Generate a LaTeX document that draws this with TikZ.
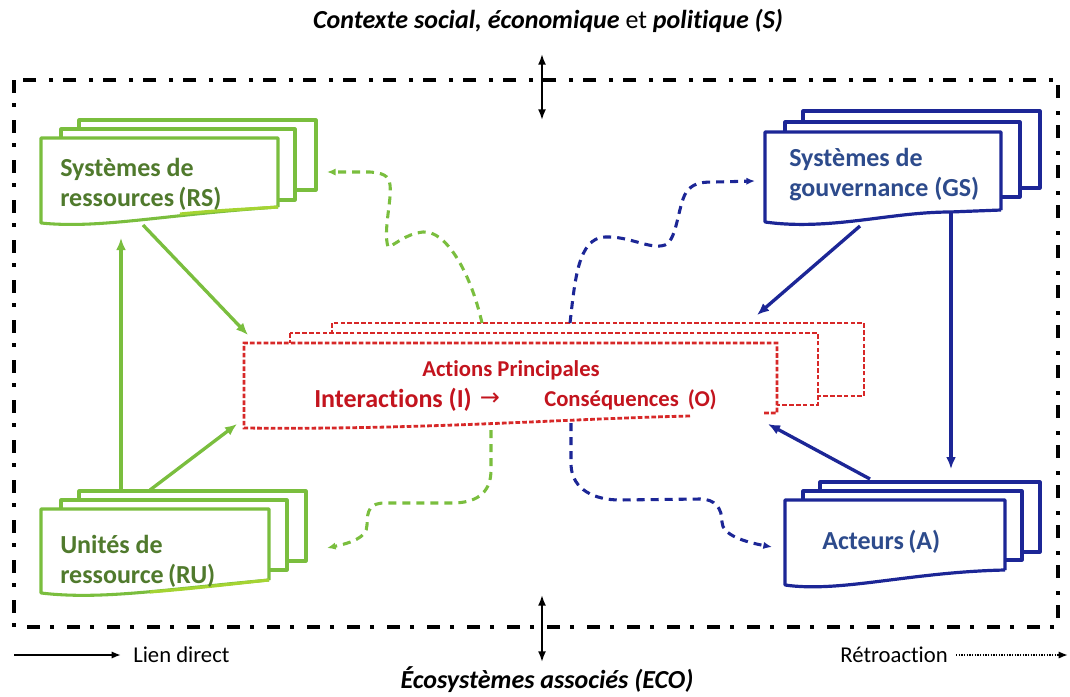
\documentclass[tikz,border=0pt]{standalone}
\usepackage{fontspec}
\setmainfont{Carlito}[Ligatures=NoCommon]
\newfontfamily\dejavu{DejaVu Sans}
\usetikzlibrary{arrows.meta}
\definecolor{gline}{RGB}{122,190,62}
\definecolor{glight}{RGB}{165,212,50}
\definecolor{gtext}{RGB}{80,122,45}
\definecolor{bline}{RGB}{28,38,150}
\definecolor{btext}{RGB}{45,75,140}
\definecolor{rline}{RGB}{215,40,40}
\definecolor{rtext}{RGB}{195,20,30}
\tikzset{
  frame/.style={draw=black, line width=2.8pt, dash pattern=on 10pt off 7.5pt on 2.5pt off 10pt},
  gbox/.style={draw=gline, line width=2.3pt, fill=white, line join=round},
  bbox/.style={draw=bline, line width=2.4pt, fill=white, line join=round},
  rbox/.style={draw=rline, line width=2.1pt, dash pattern=on 3.5pt off 1.6pt, fill=white},
  garrow/.style={draw=gline, line width=2.5pt, -{Latex[length=9pt,width=7.5pt]}},
  barrow/.style={draw=bline, line width=2.5pt, -{Latex[length=9pt,width=7.5pt]}},
  gfb/.style={draw=gline, line width=2.3pt, dash pattern=on 6pt off 4.5pt, -{Latex[length=6.5pt,width=5.5pt]}},
  bfb/.style={draw=bline, line width=2.3pt, dash pattern=on 6pt off 4.5pt, -{Latex[length=6.5pt,width=5.5pt]}},
  ext/.style={draw=black, line width=1.4pt, {Latex[length=8pt,width=6pt]}-{Latex[length=8pt,width=6pt]}},
  boxtext/.style={inner sep=0pt, anchor=west, align=left, font=\fontsize{19.5}{22.5}\selectfont\bfseries},
  legend/.style={inner sep=0pt, font=\fontsize{17}{19}\selectfont}
}
\begin{document}
\begin{tikzpicture}[x=0.75pt,y=-0.75pt]
\useasboundingbox (0,0) rectangle (1070,696);

% outer frame
\draw[frame] (14,80) rectangle (1058,627);

% titles
\node[inner sep=0pt, font=\fontsize{19.5}{22}\selectfont] (ctx) at (548,21)
  {\bfseries\itshape Contexte social, économique {\mdseries\upshape et} politique (S)};
\node[inner sep=0pt, font=\fontsize{19.5}{22}\selectfont\bfseries\itshape] (eco) at (547,680)
  {Écosystèmes associés (ECO)};

% external links
\coordinate (ctxT) at (542,54);
\coordinate (ctxB) at (542,120);
\coordinate (ecoT) at (542,595);
\coordinate (ecoB) at (542,662);
\draw[ext] (ctxT) -- (ctxB);
\draw[ext] (ecoT) -- (ecoB);

% ---------- RS stack
\draw[gbox] (79,120) rectangle (316,190);
\draw[gbox] (61,129) rectangle (295,200);
\draw[gbox] (278,207) -- (278,138) -- (41,138) -- (41,223)
   .. controls (100,229) and (160,215) .. (278,207);
\draw[draw=glight, line width=2.3pt] (180,214) .. controls (220,210) and (250,209) .. (278,207);
\node[boxtext, text=gtext] (rs) at (60,184) {Systèmes de\\ressources\,(RS)};

% ---------- RU stack
\draw[gbox] (79,491) rectangle (306,561);
\draw[gbox] (61,500) rectangle (287,570);
\draw[gbox] (269,580) -- (269,509) -- (41,509) -- (41,593)
   .. controls (100,600) and (160,590) .. (269,580);
\draw[draw=glight, line width=2.3pt] (150,592) .. controls (200,588) and (240,583) .. (269,580);
\node[boxtext, text=gtext] (ru) at (60,561) {Unités de\\ressource\,(RU)};

% ---------- GS stack
\draw[bbox] (803,111) rectangle (1040,188);
\draw[bbox] (785,122) rectangle (1020,197);
\draw[bbox] (1001,210) -- (1001,132) -- (765,132) -- (765,222)
   .. controls (830,231) and (890,212) .. (950,212) -- (1001,210);
\node[boxtext, text=btext] (gs) at (789,175) {Systèmes de\\gouvernance (GS)};

% ---------- A stack
\draw[bbox] (820,482) rectangle (1040,552);
\draw[bbox] (803,491) rectangle (1022,560);
\draw[bbox] (1005,570) -- (1005,500) -- (785,500) -- (785,585)
   .. controls (840,593) and (910,572) .. (1005,570);
\node[boxtext, text=btext] (act) at (822,542) {Acteurs\,(A)};

% ---------- central red stack
\draw[rbox] (332,323) rectangle (864,396);
\draw[rbox] (290,333) rectangle (818,405);
\fill[white] (777,413) -- (777,343) -- (244,343) -- (244,428)
   .. controls (420,430) and (560,418) .. (777,413) -- cycle;
\draw[rbox, fill=none] (690,416) .. controls (560,419) and (420,430) .. (244,428)
   -- (244,343) -- (777,343) -- (777,413) -- (763,413);
\node[inner sep=0pt, text=rtext, font=\fontsize{17}{19}\selectfont\bfseries] (ap) at (511,370) {Actions Principales};
\node[inner sep=0pt, text=rtext, font=\fontsize{19.5}{22}\selectfont\bfseries, anchor=base west] (inter) at (314,407) {Interactions (I)};
\node[inner sep=0pt, text=rtext, font=\fontsize{18}{20}\selectfont\dejavu] (arr) at (490,399) {→};
\node[inner sep=0pt, text=rtext, font=\fontsize{17}{19}\selectfont\bfseries, anchor=base west] (cons) at (544,406) {Conséquences\ \,(O)};

% ---------- direct links
\coordinate (rsOut) at (143,225);
\coordinate (ioRS) at (248,335);
\coordinate (ruOut) at (150,490);
\coordinate (ioRU) at (237,424);
\coordinate (ruUp) at (121,490);
\coordinate (rsIn) at (121,238);
\coordinate (gsOut) at (860,226);
\coordinate (ioGS) at (757,315);
\coordinate (aOut) at (870,479);
\coordinate (ioA) at (768,424);
\coordinate (gsDown) at (951,212);
\coordinate (aIn) at (951,469);
\draw[garrow] (rsOut) -- (ioRS);
\draw[garrow] (ruOut) -- (ioRU);
\draw[garrow] (ruUp) -- (rsIn);
\draw[barrow] (gsOut) -- (ioGS);
\draw[barrow] (aOut) -- (ioA);
\draw[barrow] (gsDown) -- (aIn);

% ---------- feedback links
\coordinate (fbG1) at (482,323);
\coordinate (rsFb) at (327,172);
\draw[gfb] (fbG1) .. controls (470,270) and (445,230) .. (423,232)
   .. controls (405,234) and (395,245) .. (388,247)
   .. controls (383,230) and (392,200) .. (390,185)
   .. controls (389,175) and (382,173) .. (370,172) -- (rsFb);
\coordinate (fbB1) at (570,323);
\coordinate (gsFb) at (755,181);
\draw[bfb] (fbB1) .. controls (575,280) and (578,238) .. (605,237)
   .. controls (630,236) and (650,250) .. (665,245)
   .. controls (678,240) and (678,200) .. (688,190)
   .. controls (695,182) and (705,182) .. (715,182) -- (gsFb);
\coordinate (fbG2) at (491,430);
\coordinate (ruFb) at (327,548);
\draw[gfb] (fbG2) -- (491,470) .. controls (491,490) and (480,502) .. (455,503)
   -- (385,503) .. controls (370,503) and (367,510) .. (367,525)
   .. controls (367,538) and (350,543) .. (ruFb);
\coordinate (fbB2) at (571,423);
\coordinate (aFb) at (772,547);
\draw[bfb] (fbB2) -- (571,465) .. controls (572,490) and (595,500) .. (620,500)
   -- (700,499) .. controls (715,499) and (722,508) .. (722,522)
   .. controls (722,535) and (745,542) .. (aFb);

% ---------- legend
\coordinate (l1a) at (14,655);
\coordinate (l1b) at (121,655);
\draw[draw=black, line width=1.4pt, -{Latex[length=7pt,width=5.5pt]}] (l1a) -- (l1b);
\node[legend, anchor=west] (lien) at (133,655) {Lien direct};
\node[legend, anchor=east] (retro) at (948,655) {Rétroaction};
\coordinate (l2a) at (956,655);
\coordinate (l2b) at (1068,655);
\draw[draw=black, line width=1.4pt, dash pattern=on 1pt off 1pt, -{Latex[length=7pt,width=5.5pt]}] (l2a) -- (l2b);
\end{tikzpicture}
\end{document}
